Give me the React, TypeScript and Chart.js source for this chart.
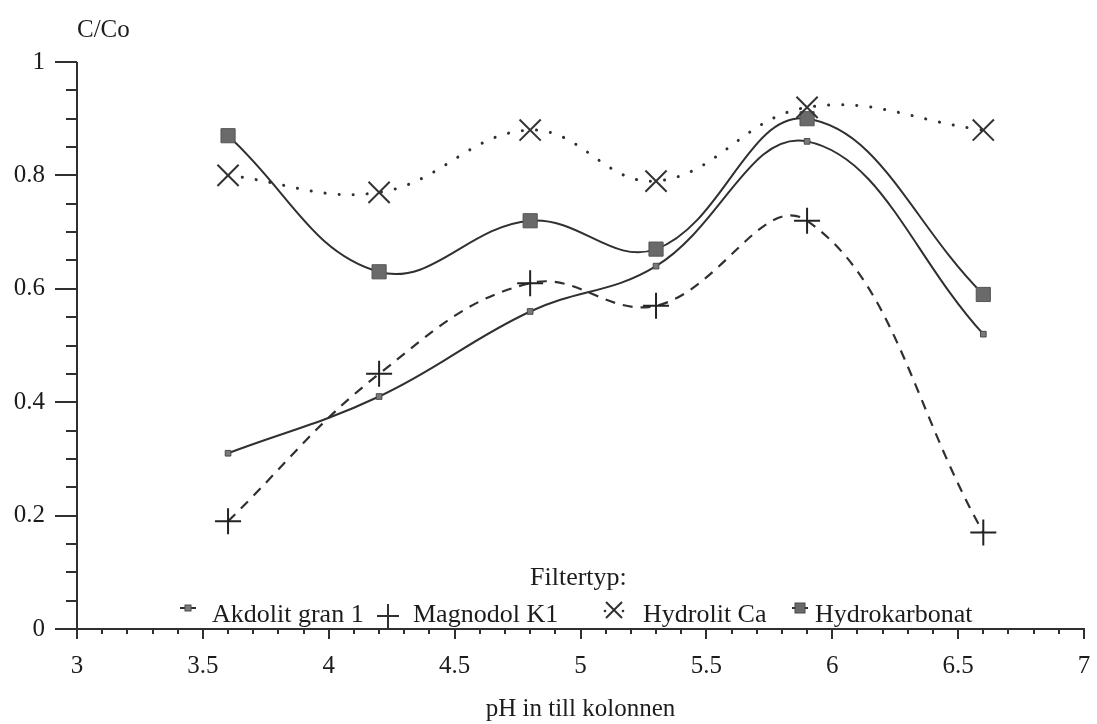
import { useEffect, useRef } from 'react';
import { Chart, registerables } from 'chart.js';

Chart.register(...registerables);

// pH values at which each filter type was measured
const phValues = [3.6, 4.2, 4.8, 5.3, 5.9, 6.6];

// C/Co per filter type
const akdolitGran1 = [0.31, 0.41, 0.56, 0.64, 0.86, 0.52];
const magnodolK1 = [0.19, 0.45, 0.61, 0.57, 0.72, 0.17];
const hydrolitCa = [0.8, 0.77, 0.88, 0.79, 0.92, 0.88];
const hydrokarbonat = [0.87, 0.63, 0.72, 0.67, 0.9, 0.59];

const seriesNames = ['Akdolit gran 1', 'Magnodol K1', 'Hydrolit Ca', 'Hydrokarbonat'];
const legendTitle = 'Filtertyp:';
const yAxisTitle = 'C/Co';
const xAxisTitle = 'pH in till kolonnen';

const FONT_FAMILY = "'Liberation Serif', 'Times New Roman', serif";
const FONT_SIZE = 25;
const LEGEND_FONT_SIZE = 26;
const INK = '#1c1c1c';
const LINE = '#303030';

const toPoints = (ys: number[]) => phValues.map((x, i) => ({ x, y: ys[i] }));
const fmtTick = (v: number | string) => String(Math.round(Number(v) * 100) / 100);

type MarkerKind = 'lineSmallSquare' | 'plus' | 'crossDots' | 'lineBigSquare';

// legend entry layout: marker centre, marker centre line, text start
const legendEntries: { kind: MarkerKind; cx: number; cy: number; tx: number }[] = [
  { kind: 'lineSmallSquare', cx: 188, cy: 608, tx: 212 },
  { kind: 'plus', cx: 388, cy: 616, tx: 413 },
  { kind: 'crossDots', cx: 614, cy: 610, tx: 643 },
  { kind: 'lineBigSquare', cx: 800, cy: 608, tx: 815 },
];

function drawLegendMarker(ctx: CanvasRenderingContext2D, kind: MarkerKind, cx: number, y: number) {
  ctx.save();
  ctx.strokeStyle = LINE;
  ctx.lineWidth = 2;
  if (kind === 'lineSmallSquare' || kind === 'lineBigSquare') {
    ctx.beginPath();
    ctx.moveTo(cx - 8, y);
    ctx.lineTo(cx + 8, y);
    ctx.stroke();
    const s = kind === 'lineSmallSquare' ? 6 : 10;
    ctx.fillStyle = kind === 'lineSmallSquare' ? '#7a7a7a' : '#6a6a6a';
    ctx.fillRect(cx - s / 2, y - s / 2, s, s);
    ctx.lineWidth = 1;
    ctx.strokeStyle = '#4a4a4a';
    ctx.strokeRect(cx - s / 2, y - s / 2, s, s);
  } else if (kind === 'plus') {
    ctx.beginPath();
    ctx.moveTo(cx - 11, y);
    ctx.lineTo(cx + 11, y);
    ctx.moveTo(cx, y - 12);
    ctx.lineTo(cx, y + 12);
    ctx.stroke();
  } else {
    const r = 8;
    ctx.beginPath();
    ctx.moveTo(cx - r, y - r);
    ctx.lineTo(cx + r, y + r);
    ctx.moveTo(cx + r, y - r);
    ctx.lineTo(cx - r, y + r);
    ctx.stroke();
    ctx.fillStyle = LINE;
    ctx.beginPath();
    ctx.arc(cx - 9, y + 1, 1.3, 0, Math.PI * 2);
    ctx.fill();
    ctx.beginPath();
    ctx.arc(cx + 9, y + 1, 1.3, 0, Math.PI * 2);
    ctx.fill();
  }
  ctx.restore();
}

// Axis lines, major/minor ticks, the y-axis caption and the legend block
const decorPlugin = {
  id: 'decor',
  afterDraw(chart: any) {
    const { ctx, chartArea, scales } = chart;
    const xs = scales.x;
    const ys = scales.y;
    ctx.save();
    ctx.strokeStyle = LINE;
    ctx.lineWidth = 2;
    ctx.lineCap = 'butt';

    // axis lines
    ctx.beginPath();
    ctx.moveTo(chartArea.left, chartArea.top);
    ctx.lineTo(chartArea.left, chartArea.bottom + 1);
    ctx.moveTo(chartArea.left - 22, chartArea.bottom);
    ctx.lineTo(chartArea.right + 1, chartArea.bottom);
    ctx.stroke();

    // y ticks every 0.05, long ones every 0.2
    ctx.beginPath();
    for (let i = 0; i <= 20; i++) {
      const py = Math.round(ys.getPixelForValue(i * 0.05));
      const len = i % 4 === 0 ? 22 : 11;
      ctx.moveTo(chartArea.left - len, py);
      ctx.lineTo(chartArea.left, py);
    }
    // x ticks every 0.1, long ones every 0.5
    for (let i = 0; i <= 40; i++) {
      const px = Math.round(xs.getPixelForValue(3 + i * 0.1));
      const len = i % 5 === 0 ? 10 : 5;
      ctx.moveTo(px, chartArea.bottom);
      ctx.lineTo(px, chartArea.bottom + len);
    }
    ctx.stroke();

    ctx.fillStyle = INK;
    ctx.font = `${FONT_SIZE}px ${FONT_FAMILY}`;
    ctx.textBaseline = 'alphabetic';

    // y-axis caption above the axis
    ctx.textAlign = 'left';
    ctx.fillText(yAxisTitle, chartArea.left, 37);

    // legend title and entries
    ctx.font = `${LEGEND_FONT_SIZE}px ${FONT_FAMILY}`;
    ctx.fillText(legendTitle, 530, 585);
    seriesNames.forEach((name, i) => {
      const e = legendEntries[i];
      drawLegendMarker(ctx, e.kind, e.cx, e.cy);
      ctx.fillStyle = INK;
      ctx.fillText(name, e.tx, 622);
    });
    ctx.restore();
  },
};

export default function App() {
  const canvasRef = useRef<HTMLCanvasElement | null>(null);

  useEffect(() => {
    const canvas = canvasRef.current;
    if (!canvas) return;
    const chart = new Chart(canvas, {
      type: 'line',
      data: {
        datasets: [
          {
            label: seriesNames[0],
            data: toPoints(akdolitGran1),
            borderColor: LINE,
            borderWidth: 2,
            tension: 0.4,
            pointStyle: 'rect',
            pointRadius: 4,
            pointBackgroundColor: '#7a7a7a',
            pointBorderColor: '#4a4a4a',
            pointBorderWidth: 1,
          },
          {
            label: seriesNames[1],
            data: toPoints(magnodolK1),
            borderColor: LINE,
            borderWidth: 2.2,
            borderDash: [10, 8],
            tension: 0.4,
            pointStyle: 'cross',
            pointRadius: 13,
            pointBorderColor: '#222',
            pointBorderWidth: 2,
          },
          {
            label: seriesNames[2],
            data: toPoints(hydrolitCa),
            borderColor: LINE,
            borderWidth: 3,
            borderDash: [0.1, 14],
            borderCapStyle: 'round',
            tension: 0.4,
            pointStyle: 'crossRot',
            pointRadius: 15,
            pointBorderColor: '#333',
            pointBorderWidth: 2,
          },
          {
            label: seriesNames[3],
            data: toPoints(hydrokarbonat),
            borderColor: LINE,
            borderWidth: 2,
            tension: 0.4,
            pointStyle: 'rect',
            pointRadius: 10,
            pointBackgroundColor: '#6a6a6a',
            pointBorderColor: '#555',
            pointBorderWidth: 1,
          },
        ],
      },
      options: {
        responsive: false,
        animation: false,
        layout: { autoPadding: false, padding: { top: 62, right: 13, left: 0, bottom: 0 } },
        plugins: {
          legend: { display: false },
          tooltip: { enabled: false },
          title: { display: false },
        },
        scales: {
          x: {
            type: 'linear',
            min: 3,
            max: 7,
            afterFit: (s: any) => {
              s.height = 95;
              s.paddingLeft = 0;
              s.paddingRight = 0;
            },
            ticks: {
              stepSize: 0.5,
              padding: 22,
              color: INK,
              callback: fmtTick,
              font: { family: FONT_FAMILY, size: FONT_SIZE },
            },
            grid: { display: false, drawTicks: false },
            border: { display: false },
            title: {
              display: true,
              text: xAxisTitle,
              color: INK,
              font: { family: FONT_FAMILY, size: FONT_SIZE },
              padding: { top: 0, bottom: 0 },
            },
          },
          y: {
            type: 'linear',
            min: 0,
            max: 1,
            afterFit: (s: any) => {
              s.width = 77;
              s.paddingTop = 0;
              s.paddingBottom = 0;
            },
            ticks: {
              stepSize: 0.2,
              padding: 32,
              color: INK,
              callback: fmtTick,
              font: { family: FONT_FAMILY, size: FONT_SIZE },
            },
            grid: { display: false, drawTicks: false },
            border: { display: false },
          },
        },
      },
      plugins: [decorPlugin],
    });
    return () => chart.destroy();
  }, []);

  return (
    <div style={{ position: 'fixed', left: 0, top: 0, width: 1097, height: 724, background: '#fff' }}>
      <canvas ref={canvasRef} width={1097} height={724} />
    </div>
  );
}
